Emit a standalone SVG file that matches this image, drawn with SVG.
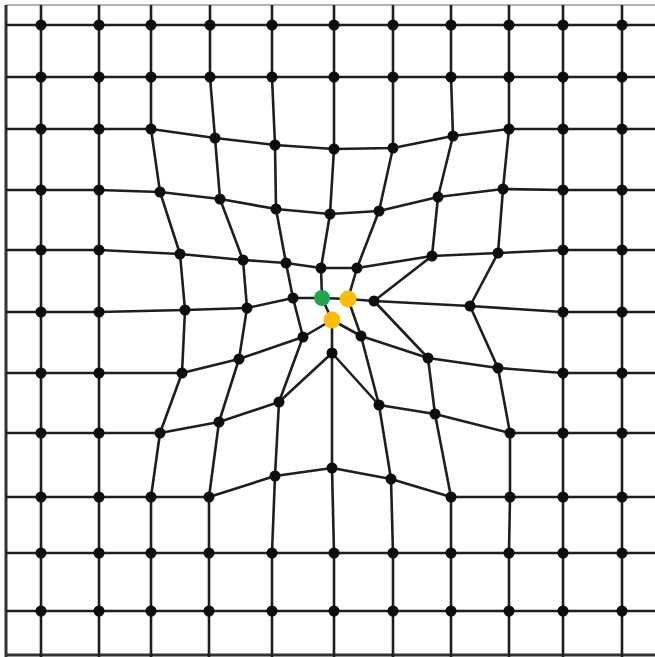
<svg xmlns="http://www.w3.org/2000/svg" width="655" height="657" viewBox="0 0 655 657">
<style>
.bg{fill:#ffffff}
.ln{fill:none;stroke:#1e1e1e;stroke-width:2.6;stroke-linejoin:round}
.fr{fill:none;stroke:#9a9a9a;stroke-width:1.6}
.fl{fill:none;stroke:#333;stroke-width:3}
.nd{fill:#0d0d0d}
.g{fill:#1fa54a}
.y{fill:#fbbd0a}
</style>
<rect class="bg" x="0" y="0" width="655" height="657"/>
<g id="frame">
<line class="fr" x1="6" y1="5" x2="655" y2="5"/>
<line class="fl" x1="6" y1="5" x2="6" y2="657"/>
<line class="fl" x1="6" y1="655" x2="655" y2="655"/>
</g>
<g id="connectors">
<polyline class="ln" points="6,25 41,25 99,25 151,25 210,25 272,25 334,25 393,25 451,25 509,25 563,25 622,25 655,25"/>
<polyline class="ln" points="6,77 41,77 99,77 151,77 210,77 272,77 334,77 393,77 451,77 509,77 563,77 622,77 655,77"/>
<polyline class="ln" points="6,129 41,129 99,129 151,129 215,138 275,145 334,149 393,148 453,136 509,129 563,129 622,129 655,129"/>
<polyline class="ln" points="6,190 41,190 99,190 160,192 220,199 276,209 330,214 379,211 438,197 503,189 563,190 622,190 655,190"/>
<polyline class="ln" points="6,250 41,250 99,250 180,254 243,260 286,263 321,268 357,268 432,256 498,253 563,250 622,250 655,250"/>
<polyline class="ln" points="6,312 41,312 99,312 185,310 247,308 293,298 322,298 348,299 374,301 470,306 563,312 622,312 655,312"/>
<polyline class="ln" points="6,373 41,373 99,373 182,373 239,359 303,337 332,320 361,336 428,358 498,368 563,373 622,373 655,373"/>
<polyline class="ln" points="6,433 41,433 99,433 160,433 219,422 279,402 332,353 379,405 435,414 510,433 563,433 622,433 655,433"/>
<polyline class="ln" points="6,497 41,497 99,497 151,497 209,497 275,476 332,468 391,479 451,497 510,497 563,497 622,497 655,497"/>
<polyline class="ln" points="6,553 41,553 99,553 151,553 209,553 272,553 334,553 393,553 451,553 509,553 563,553 622,553 655,553"/>
<polyline class="ln" points="6,611 41,611 99,611 151,611 209,611 272,611 334,611 393,611 451,611 509,611 563,611 622,611 655,611"/>
<polyline class="ln" points="41,5 41,657"/>
<polyline class="ln" points="99,5 99,657"/>
<polyline class="ln" points="151,5 151,25 151,77 151,129 160,192 180,254 185,310 182,373 160,433 151,497 151,553 151,611 151,657"/>
<polyline class="ln" points="210,5 210,25 210,77 215,138 220,199 243,260 247,308 239,359 219,422 209,497 209,553 209,611 209,657"/>
<polyline class="ln" points="272,5 272,25 272,77 275,145 276,209 286,263 293,298 303,337 279,402 275,476 272,553 272,611 272,657"/>
<polyline class="ln" points="334,5 334,25 334,77 334,149 330,214 321,268 322,298 332,320 332,353 332,468 334,553 334,611 334,657"/>
<polyline class="ln" points="393,5 393,25 393,77 393,148 379,211 357,268 348,299 361,336 379,405 391,479 393,553 393,611 393,657"/>
<polyline class="ln" points="451,5 451,25 451,77 453,136 438,197 432,256 374,301 428,358 435,414 451,497 451,553 451,611 451,657"/>
<polyline class="ln" points="509,5 509,25 509,77 509,129 503,189 498,253 470,306 498,368 510,433 510,497 509,553 509,611 509,657"/>
<polyline class="ln" points="563,5 563,657"/>
<polyline class="ln" points="622,5 622,657"/>
</g>
<g id="nodes">
<g id="n0"><circle class="nd" cx="41" cy="25" r="5.5"/><circle class="nd" cx="99" cy="25" r="5.5"/><circle class="nd" cx="151" cy="25" r="5.5"/><circle class="nd" cx="210" cy="25" r="5.5"/><circle class="nd" cx="272" cy="25" r="5.5"/><circle class="nd" cx="334" cy="25" r="5.5"/><circle class="nd" cx="393" cy="25" r="5.5"/><circle class="nd" cx="451" cy="25" r="5.5"/><circle class="nd" cx="509" cy="25" r="5.5"/><circle class="nd" cx="563" cy="25" r="5.5"/><circle class="nd" cx="622" cy="25" r="5.5"/></g>
<g id="n1"><circle class="nd" cx="41" cy="77" r="5.5"/><circle class="nd" cx="99" cy="77" r="5.5"/><circle class="nd" cx="151" cy="77" r="5.5"/><circle class="nd" cx="210" cy="77" r="5.5"/><circle class="nd" cx="272" cy="77" r="5.5"/><circle class="nd" cx="334" cy="77" r="5.5"/><circle class="nd" cx="393" cy="77" r="5.5"/><circle class="nd" cx="451" cy="77" r="5.5"/><circle class="nd" cx="509" cy="77" r="5.5"/><circle class="nd" cx="563" cy="77" r="5.5"/><circle class="nd" cx="622" cy="77" r="5.5"/></g>
<g id="n2"><circle class="nd" cx="41" cy="129" r="5.5"/><circle class="nd" cx="99" cy="129" r="5.5"/><circle class="nd" cx="151" cy="129" r="5.5"/><circle class="nd" cx="215" cy="138" r="5.5"/><circle class="nd" cx="275" cy="145" r="5.5"/><circle class="nd" cx="334" cy="149" r="5.5"/><circle class="nd" cx="393" cy="148" r="5.5"/><circle class="nd" cx="453" cy="136" r="5.5"/><circle class="nd" cx="509" cy="129" r="5.5"/><circle class="nd" cx="563" cy="129" r="5.5"/><circle class="nd" cx="622" cy="129" r="5.5"/></g>
<g id="n3"><circle class="nd" cx="41" cy="190" r="5.5"/><circle class="nd" cx="99" cy="190" r="5.5"/><circle class="nd" cx="160" cy="192" r="5.5"/><circle class="nd" cx="220" cy="199" r="5.5"/><circle class="nd" cx="276" cy="209" r="5.5"/><circle class="nd" cx="330" cy="214" r="5.5"/><circle class="nd" cx="379" cy="211" r="5.5"/><circle class="nd" cx="438" cy="197" r="5.5"/><circle class="nd" cx="503" cy="189" r="5.5"/><circle class="nd" cx="563" cy="190" r="5.5"/><circle class="nd" cx="622" cy="190" r="5.5"/></g>
<g id="n4"><circle class="nd" cx="41" cy="250" r="5.5"/><circle class="nd" cx="99" cy="250" r="5.5"/><circle class="nd" cx="180" cy="254" r="5.5"/><circle class="nd" cx="243" cy="260" r="5.5"/><circle class="nd" cx="286" cy="263" r="5.5"/><circle class="nd" cx="321" cy="268" r="5.5"/><circle class="nd" cx="357" cy="268" r="5.5"/><circle class="nd" cx="432" cy="256" r="5.5"/><circle class="nd" cx="498" cy="253" r="5.5"/><circle class="nd" cx="563" cy="250" r="5.5"/><circle class="nd" cx="622" cy="250" r="5.5"/></g>
<g id="n5"><circle class="nd" cx="41" cy="312" r="5.5"/><circle class="nd" cx="99" cy="312" r="5.5"/><circle class="nd" cx="185" cy="310" r="5.5"/><circle class="nd" cx="247" cy="308" r="5.5"/><circle class="nd" cx="293" cy="298" r="5.5"/><circle class="g" cx="322" cy="298" r="8"/><circle class="y" cx="348" cy="299" r="8.5"/><circle class="nd" cx="374" cy="301" r="5.5"/><circle class="nd" cx="470" cy="306" r="5.5"/><circle class="nd" cx="563" cy="312" r="5.5"/><circle class="nd" cx="622" cy="312" r="5.5"/></g>
<g id="n6"><circle class="nd" cx="41" cy="373" r="5.5"/><circle class="nd" cx="99" cy="373" r="5.5"/><circle class="nd" cx="182" cy="373" r="5.5"/><circle class="nd" cx="239" cy="359" r="5.5"/><circle class="nd" cx="303" cy="337" r="5.5"/><circle class="y" cx="332" cy="320" r="8.5"/><circle class="nd" cx="361" cy="336" r="5.5"/><circle class="nd" cx="428" cy="358" r="5.5"/><circle class="nd" cx="498" cy="368" r="5.5"/><circle class="nd" cx="563" cy="373" r="5.5"/><circle class="nd" cx="622" cy="373" r="5.5"/></g>
<g id="n7"><circle class="nd" cx="41" cy="433" r="5.5"/><circle class="nd" cx="99" cy="433" r="5.5"/><circle class="nd" cx="160" cy="433" r="5.5"/><circle class="nd" cx="219" cy="422" r="5.5"/><circle class="nd" cx="279" cy="402" r="5.5"/><circle class="nd" cx="332" cy="353" r="5.5"/><circle class="nd" cx="379" cy="405" r="5.5"/><circle class="nd" cx="435" cy="414" r="5.5"/><circle class="nd" cx="510" cy="433" r="5.5"/><circle class="nd" cx="563" cy="433" r="5.5"/><circle class="nd" cx="622" cy="433" r="5.5"/></g>
<g id="n8"><circle class="nd" cx="41" cy="497" r="5.5"/><circle class="nd" cx="99" cy="497" r="5.5"/><circle class="nd" cx="151" cy="497" r="5.5"/><circle class="nd" cx="209" cy="497" r="5.5"/><circle class="nd" cx="275" cy="476" r="5.5"/><circle class="nd" cx="332" cy="468" r="5.5"/><circle class="nd" cx="391" cy="479" r="5.5"/><circle class="nd" cx="451" cy="497" r="5.5"/><circle class="nd" cx="510" cy="497" r="5.5"/><circle class="nd" cx="563" cy="497" r="5.5"/><circle class="nd" cx="622" cy="497" r="5.5"/></g>
<g id="n9"><circle class="nd" cx="41" cy="553" r="5.5"/><circle class="nd" cx="99" cy="553" r="5.5"/><circle class="nd" cx="151" cy="553" r="5.5"/><circle class="nd" cx="209" cy="553" r="5.5"/><circle class="nd" cx="272" cy="553" r="5.5"/><circle class="nd" cx="334" cy="553" r="5.5"/><circle class="nd" cx="393" cy="553" r="5.5"/><circle class="nd" cx="451" cy="553" r="5.5"/><circle class="nd" cx="509" cy="553" r="5.5"/><circle class="nd" cx="563" cy="553" r="5.5"/><circle class="nd" cx="622" cy="553" r="5.5"/></g>
<g id="n10"><circle class="nd" cx="41" cy="611" r="5.5"/><circle class="nd" cx="99" cy="611" r="5.5"/><circle class="nd" cx="151" cy="611" r="5.5"/><circle class="nd" cx="209" cy="611" r="5.5"/><circle class="nd" cx="272" cy="611" r="5.5"/><circle class="nd" cx="334" cy="611" r="5.5"/><circle class="nd" cx="393" cy="611" r="5.5"/><circle class="nd" cx="451" cy="611" r="5.5"/><circle class="nd" cx="509" cy="611" r="5.5"/><circle class="nd" cx="563" cy="611" r="5.5"/><circle class="nd" cx="622" cy="611" r="5.5"/></g>
</g>
</svg>
